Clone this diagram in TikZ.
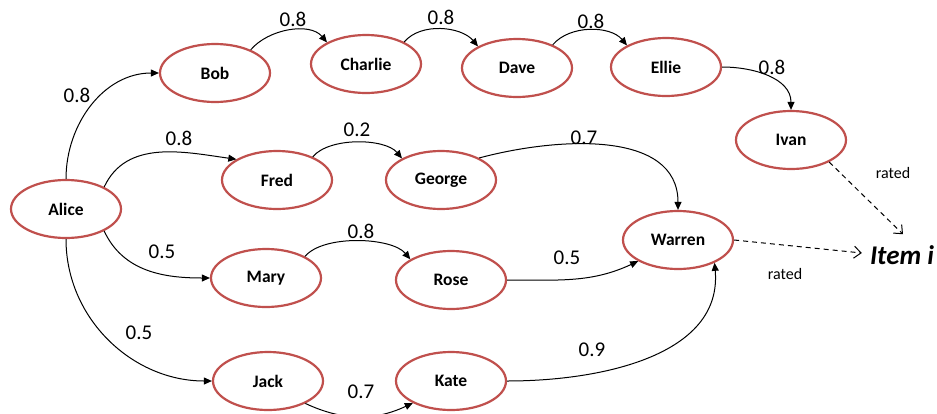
\documentclass[tikz,border=0pt]{standalone}
\usepackage{fontspec}
\setmainfont{Carlito}
\usetikzlibrary{arrows.meta,shapes.geometric}
\definecolor{ringred}{RGB}{192,80,77}
\tikzset{
  person/.style={ellipse, draw=ringred, line width=2.2pt, fill=white,
    minimum width=110pt, minimum height=58pt, inner sep=0pt,
    font=\fontsize{17.5}{20}\selectfont\bfseries},
  link/.style={line width=1pt, -{Triangle[length=8pt,width=7pt]}},
  hop/.style={out=50, in=130, looseness=0.9},
  ratedlink/.style={line width=1pt, dashed, dash pattern=on 5pt off 4pt,
    -{Straight Barb[length=7pt,width=12pt,line width=1pt]}},
  weight/.style={font=\fontsize{21}{24}\selectfont, inner sep=0pt},
  note/.style={font=\fontsize{16}{19}\selectfont, inner sep=0pt}
}
\begin{document}
\begin{tikzpicture}[x=1pt,y=-1pt]
\useasboundingbox (0,0) rectangle (937,413);

% people
\node[person] (alice)   at (66,209)  {Alice};
\node[person] (bob)     at (215,73)  {Bob};
\node[person] (charlie) at (366,64)  {Charlie};
\node[person] (dave)    at (517,68)  {Dave};
\node[person] (ellie)   at (666,67)  {Ellie};
\node[person] (ivan)    at (791,140) {Ivan};
\node[person] (fred)    at (277,180) {Fred};
\node[person] (george)  at (441,180) {George};
\node[person] (warren)  at (678,240) {Warren};
\node[person] (mary)    at (266,278) {Mary};
\node[person] (rose)    at (451,280) {Rose};
\node[person] (jack)    at (268,381) {Jack};
\node[person] (kate)    at (451,381) {Kate};

\node[font=\fontsize{27}{30}\selectfont\bfseries\itshape, inner sep=2pt]
  (item) at (902,255) {Item i};

% trust links
\draw[link] (alice.north) to[out=90,in=180] (bob.west);
\draw[link] (alice.30) to[out=65,in=172] (fred.153);
\draw[link] (alice.-30) to[out=-65,in=180] (mary.west);
\draw[link] (alice.south) to[out=-90,in=180] (jack.west);
\draw[link] (bob.33) to[hop] (charlie.151);
\draw[link] (charlie.30) to[hop] (dave.151);
\draw[link] (dave.33) to[hop] (ellie.151);
\draw[link] (ellie.east) to[out=0,in=90] (ivan.north);
\draw[link] (fred.33) to[hop, looseness=0.75] (george.151);
\draw[link] (george.30) to[out=15,in=90] (warren.north);
\draw[link] (mary.29) to[hop, looseness=0.7] (rose.153);
\draw[link] (rose.east) to[out=0,in=205] (warren.208);
\draw[link] (jack.-31) to[out=-25,in=-155] (kate.-150);
\draw[link] (kate.east) to[out=0,in=-85] (warren.-32);

% ratings
\draw[ratedlink] (ivan.-30) -- ([xshift=1pt,yshift=9pt]item.north);
\draw[ratedlink] (warren.east) -- ([xshift=-6pt,yshift=2pt]item.west);

% weights
\node[weight] (w1)  at (77,95)   {0.8};
\node[weight] (w2)  at (179,138) {0.8};
\node[weight] (w3)  at (162,252) {0.5};
\node[weight] (w4)  at (139,333) {0.5};
\node[weight] (w5)  at (293,19)  {0.8};
\node[weight] (w6)  at (441,17)  {0.8};
\node[weight] (w7)  at (591,21)  {0.8};
\node[weight] (w8)  at (772,67)  {0.8};
\node[weight] (w9)  at (357,130) {0.2};
\node[weight] (w10) at (584,138) {0.7};
\node[weight] (w11) at (361,231) {0.8};
\node[weight] (w12) at (567,258) {0.5};
\node[weight] (w13) at (361,392) {0.7};
\node[weight] (w14) at (592,350) {0.9};

\node[note] (r1) at (893,173) {rated};
\node[note] (r2) at (785,274) {rated};
\end{tikzpicture}
\end{document}
